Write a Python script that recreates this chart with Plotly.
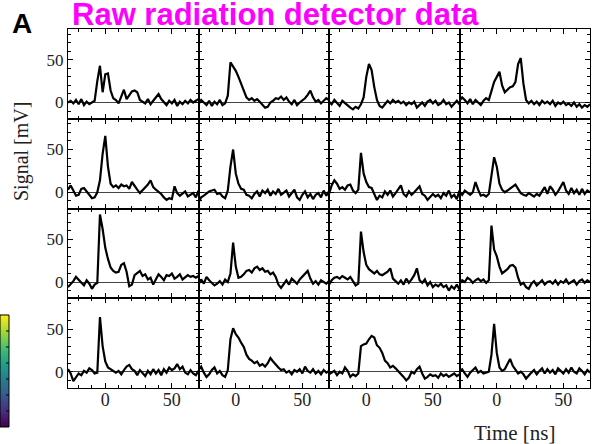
import plotly.graph_objects as go
from plotly.subplots import make_subplots
from plotly.colors import sample_colorscale

# time axis (ns), one sample every 2 ns
time_ns = list(range(-28, 71, 2))

sig_r1c1 = [0, 2, -1, 3, -2, 4, -3, 1, -2, 0, 2, 25, 43, 12, 33, 34, 14, 5, 3, -1, 8, 15, 4, 9, 13,
            14, 12, 3, 1, -1, 4, -2, 2, 6, 10, 4, 1, -3, 2, -1, 3, -4, 1, -2, 2, -1, 3, 0, 2, 4]
sig_r1c2 = [-2, 3, 0, -3, 2, -4, 1, -2, 3, -3, -1, 8, 47, 42, 37, 30, 22, 16, 6, 3, 5, 2, 4, 1, -2,
            -6, -5, 0, 2, 5, 4, 7, 3, 6, 1, -2, 3, -3, 0, 2, 5, 9, 14, 6, 1, 3, -1, 2, 5, 3]
sig_r1c3 = [1, -2, 3, 0, -4, 2, -1, -3, -6, -8, -5, -7, -2, 6, 30, 45, 38, 18, 3, -4, -6, -2, 2, -1, 3,
            0, 2, -1, 1, -3, 0, -2, 1, -6, -3, 0, -4, 1, 3, -1, 2, -3, -1, 3, -2, 0, -5, -1, 2, -2]
sig_r1c4 = [2, 6, 3, -1, 4, -2, 3, 0, -3, 2, 5, 3, 15, 24, 30, 36, 20, 12, 15, 18, 19, 24, 45, 52, 22,
            3, -1, 2, -2, 1, -3, 2, -1, 1, -2, 2, -4, 0, -2, 1, -3, -1, -4, 0, -5, -2, -6, -3, -5, -2]

sig_r2c1 = [3, 8, 2, -4, -3, 4, 5, 1, -2, -7, -6, 0, 14, 45, 66, 30, 10, 6, 8, 5, 9, 7, 8, 4, 12,
            7, 3, -1, 2, 5, 9, 14, 6, 3, 1, -2, -6, -9, -7, -8, 7, -1, -4, -2, 1, -5, -3, -1, -6, 2]
sig_r2c2 = [-12, -6, -4, -1, 1, 2, 3, -2, -1, -5, -7, 2, 30, 50, 22, 10, 4, 3, -3, -4, -7, -2, 1, -5, 2,
            -1, 3, -4, 1, -2, 4, -3, 0, 2, -5, -1, 3, -6, -9, -3, 1, -6, -2, -8, -3, -1, -6, 2, -4, 1]
sig_r2c3 = [-2, 8, 14, 10, 4, 6, 3, 8, 9, 2, -1, 3, 46, 22, 12, 6, 5, -2, -9, -4, -6, 1, -3, 2, -5,
            -1, 3, 8, -2, -5, 1, -3, 0, 3, 7, -2, -4, -9, -6, -2, -5, -3, -7, -1, -4, 2, -6, -3, -8, 2]
sig_r2c4 = [1, -3, 2, -1, -3, 0, 12, 3, -4, -3, -5, -2, 18, 41, 30, 10, 3, 0, 2, 4, 6, 9, 4, -1, -3,
            -4, -1, -3, -5, -2, -4, 1, 6, -2, 7, 3, -3, 1, 6, 12, 2, -2, 5, -1, 3, -3, 4, -2, 2, 0]

sig_r3c1 = [-6, -3, 1, 6, 3, -1, -4, 2, -2, -8, -3, -1, 79, 62, 40, 27, 17, 13, 11, 12, 20, 22, 12, -5, -3,
            8, 10, 13, 7, 9, 3, 5, -3, 4, 9, 6, 2, 8, 7, 10, 4, 6, 9, 3, 5, 8, 6, 7, 5, 7]
sig_r3c2 = [-3, 3, -2, 6, 2, -1, -4, -2, 1, -3, 3, 0, 10, 46, 18, 5, 6, 9, 13, 14, 11, 16, 18, 14, 16,
            12, 13, 9, 11, 6, -3, -7, -2, 2, -3, 4, 1, -2, 3, 6, 10, 13, 4, -2, 1, -3, 2, 0, -2, 1]
sig_r3c3 = [-3, 2, 5, 6, 4, 7, 5, 3, 6, 1, -4, -2, 59, 35, 20, 15, 12, 10, 13, 9, 8, 10, 12, 16, 4,
            1, -2, 2, -3, 4, -1, 3, 8, 16, 2, -1, 3, -4, 0, -6, -3, -5, -2, -6, -4, -10, -5, -8, -3, -9]
sig_r3c4 = [-2, 2, 0, 5, 3, -1, 2, 4, 1, 3, -1, 2, 66, 38, 30, 18, 10, 12, 15, 19, 20, 17, 5, -3, -1,
            -6, -8, -2, 1, -4, -1, 2, -3, 0, 1, -2, 2, -3, 1, -1, 3, -2, 0, 2, -3, 1, 3, -1, 2, 0]

sig_r4c1 = [3, -2, -11, -6, -2, -4, 1, -1, 4, 2, -2, -1, 64, 30, 12, 5, 3, 2, -1, 1, -3, 2, 6, 8, 3,
            1, -4, 2, -2, -5, 1, -3, 3, -2, 2, -4, 3, -1, 5, 2, 4, 9, 3, 6, -1, -3, 2, -2, -4, 1]
sig_r4c2 = [2, 6, -1, -6, -3, 2, 5, -2, 1, -4, -6, 2, 38, 51, 44, 40, 34, 29, 20, 15, 13, 10, 12, 7, 9,
            6, 10, 16, 12, 8, 5, 2, 3, -1, 1, -3, 2, 0, 3, -2, 6, 1, -1, 3, -2, 1, -3, 2, -1, 1]
sig_r4c3 = [-3, -1, 1, -4, 0, -2, 5, 1, -6, -3, -5, -2, 30, 32, 33, 38, 42, 40, 31, 28, 22, 13, 10, 5, 7,
            4, 1, -3, -6, -10, -7, 0, -2, 3, 6, -2, -8, -6, -3, -5, -4, -7, -2, -5, -3, -6, -4, -2, -5, -3]
sig_r4c4 = [1, 3, -2, -6, -1, 2, 5, -1, 1, -2, -1, 0, 20, 56, 22, 5, 1, 3, 9, 15, 7, 2, -2, 0, -3,
            -8, -4, -1, 2, -3, 1, 4, -2, 3, -1, 2, -3, 4, 1, -2, 3, -1, 5, 0, -2, 4, 1, -3, 2, -1]

signals = [
    [sig_r1c1, sig_r1c2, sig_r1c3, sig_r1c4],
    [sig_r2c1, sig_r2c2, sig_r2c3, sig_r2c4],
    [sig_r3c1, sig_r3c2, sig_r3c3, sig_r3c4],
    [sig_r4c1, sig_r4c2, sig_r4c3, sig_r4c4],
]

W, H = 594, 444
serif = "Liberation Serif, Times New Roman, serif"

# panel edges in pixels (grid of 4x4 panels)
col_edges = [68, 198.5, 329, 459.5, 590]
row_edges = [29, 118.75, 208.5, 298.25, 388]

fig = make_subplots(rows=4, cols=4, horizontal_spacing=0, vertical_spacing=0)

for r in range(4):
    for c in range(4):
        fig.add_trace(go.Scatter(x=time_ns, y=signals[r][c], mode="lines",
                                 line=dict(color="black", width=2.2), showlegend=False),
                      row=r + 1, col=c + 1)
        fig.update_xaxes(domain=[col_edges[c] / W, col_edges[c + 1] / W], automargin=False,
                         range=[-28, 70], showline=True, linecolor="black", linewidth=1,
                         mirror="ticks", ticks="inside", ticklen=5, tickcolor="black",
                         tick0=0, dtick=50, showgrid=False, zeroline=False,
                         minor=dict(ticks="inside", ticklen=3, dtick=10, tickcolor="black"),
                         showticklabels=(r == 3), ticklabelstandoff=-5,
                         tickfont=dict(family=serif, size=18, color="#222"),
                         row=r + 1, col=c + 1)
        fig.update_yaxes(domain=[1 - row_edges[r + 1] / H, 1 - row_edges[r] / H], automargin=False,
                         range=[-19, 86], showline=True, linecolor="black", linewidth=1,
                         mirror="ticks", ticks="inside", ticklen=5, tickcolor="black",
                         tick0=0, dtick=50, showgrid=False,
                         zeroline=True, zerolinecolor="#444", zerolinewidth=1,
                         minor=dict(ticks="inside", ticklen=3, dtick=10, tickcolor="black"),
                         showticklabels=(c == 0), tickfont=dict(family=serif, size=17, color="#222"),
                         row=r + 1, col=c + 1)

# colourbar fragment at the lower left, drawn as thin viridis bands
cb_top, cb_bot, cb_left, cb_right = 315, 427, 0, 9
n_bands = 56
band_cols = sample_colorscale("Viridis", [i / (n_bands - 1) for i in range(n_bands)])
shapes = []
band_h = (cb_bot - cb_top) / n_bands
for i, col in enumerate(band_cols):
    y1 = cb_bot - i * band_h
    shapes.append(dict(type="rect", xref="paper", yref="paper",
                       x0=cb_left / W, x1=cb_right / W,
                       y0=1 - y1 / H, y1=1 - (y1 - band_h - 0.5) / H,
                       line=dict(width=0), fillcolor=col, layer="below"))
shapes.append(dict(type="rect", xref="paper", yref="paper", x0=cb_left / W, x1=cb_right / W,
                   y0=1 - cb_bot / H, y1=1 - cb_top / H, line=dict(color="black", width=1)))
for k in range(1, 7):
    ty = cb_top + k * (cb_bot - cb_top) / 7
    shapes.append(dict(type="line", xref="paper", yref="paper", x0=(cb_right - 3) / W, x1=cb_right / W,
                       y0=1 - ty / H, y1=1 - ty / H, line=dict(color="black", width=1)))

fig.update_layout(
    width=W, height=H,
    margin=dict(l=0, r=0, t=0, b=0),
    paper_bgcolor="white", plot_bgcolor="white",
    shapes=shapes,
    annotations=[
        dict(text="<b>Raw radiation detector data</b>", xref="paper", yref="paper",
             x=70 / W, y=1 - 14 / H, xanchor="left", yanchor="middle", showarrow=False,
             font=dict(family="Liberation Sans, Arial, sans-serif", size=31, color="#ff00ff")),
        dict(text="<b>A</b>", xref="paper", yref="paper", x=22 / W, y=1 - 23 / H,
             xanchor="center", yanchor="middle", showarrow=False,
             font=dict(family="Liberation Sans, Arial, sans-serif", size=28, color="black")),
        dict(text="Signal [mV]", xref="paper", yref="paper", x=21 / W, y=1 - 152 / H,
             xanchor="center", yanchor="middle", textangle=-90, showarrow=False,
             font=dict(family=serif, size=20, color="#222")),
        dict(text="Time [ns]", xref="paper", yref="paper", x=515 / W, y=1 - 433 / H,
             xanchor="center", yanchor="middle", showarrow=False,
             font=dict(family=serif, size=21, color="#222")),
    ],
)

# page body has a default margin; drop it so the figure sits at the window corner
fig.write_html("out.html", config={"displayModeBar": False},
               post_script="document.body.style.margin = '0px';")
